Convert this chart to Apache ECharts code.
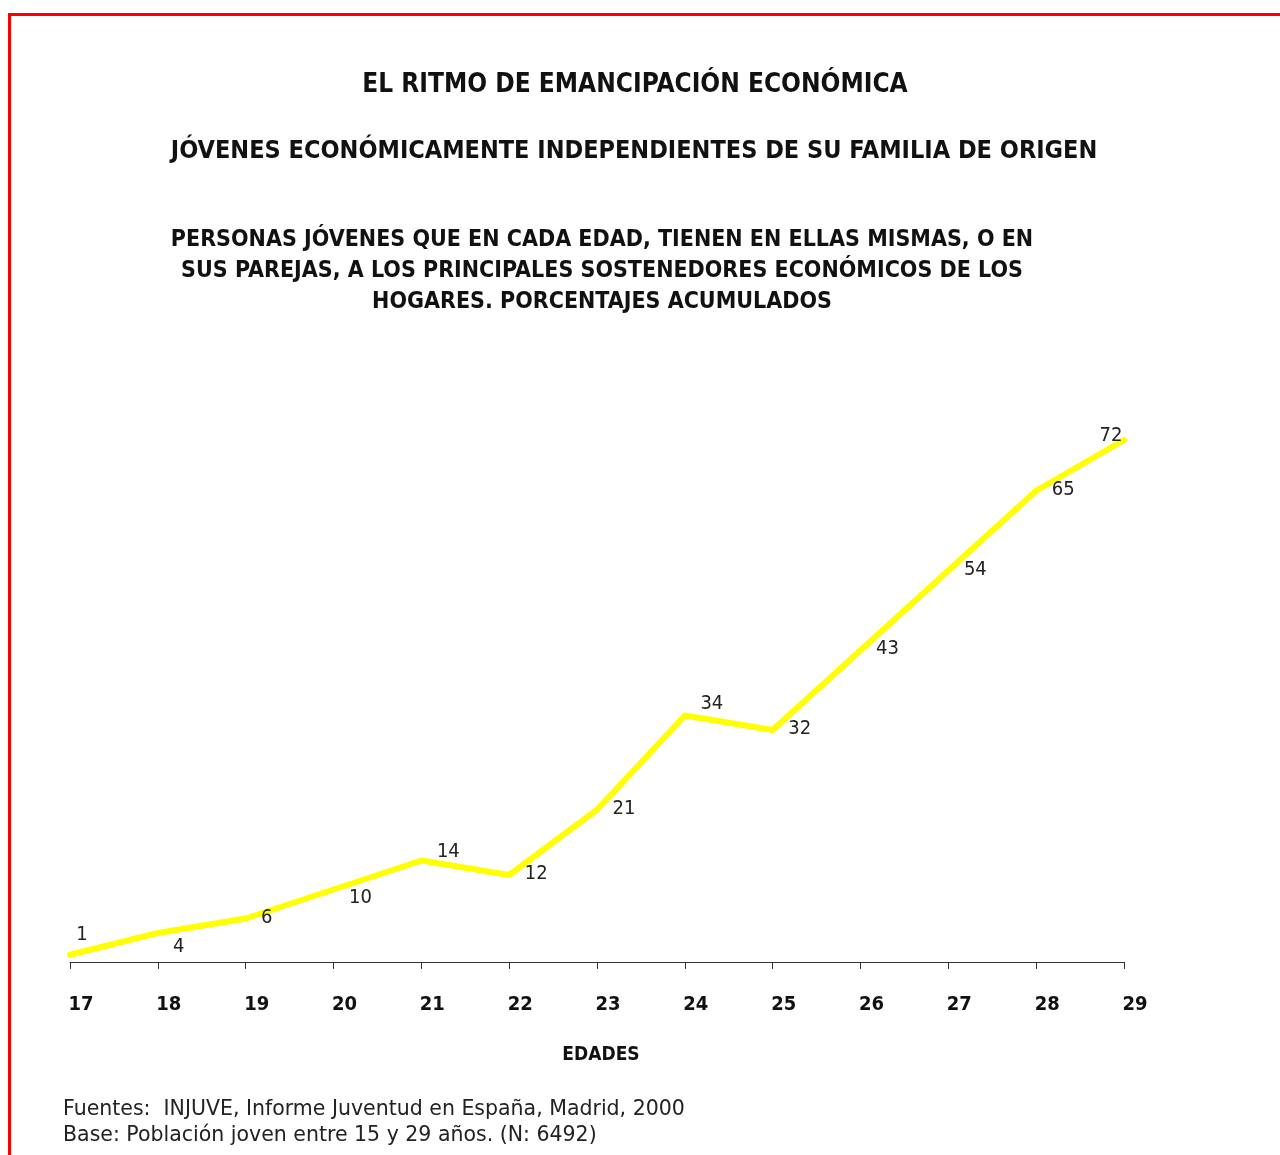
<!DOCTYPE html>
<html>
<head>
<meta charset="utf-8">
<script src="https://cdn.jsdelivr.net/npm/echarts@6/dist/echarts.min.js"></script>
<style>
  html, body { margin: 0; padding: 0; background: #fff; overflow: hidden; }
  #frame { position: absolute; left: 8px; top: 13px; width: 1400px; height: 1300px; border: 3px solid #ff0000; }
  #chart { position: absolute; left: 0; top: 0; width: 1280px; height: 1155px; }
</style>
</head>
<body>
<div id="frame"></div>
<div id="chart"></div>
<script>
// ages on the x axis
const edades = ['17', '18', '19', '20', '21', '22', '23', '24', '25', '26', '27', '28', '29'];
// cumulative percentage of independent young people
const porcentajes = [1, 4, 6, 10, 14, 12, 21, 34, 32, 43, 54, 65, 72];

const titulo1 = 'EL RITMO DE EMANCIPACIÓN ECONÓMICA';
const titulo2 = 'JÓVENES ECONÓMICAMENTE INDEPENDIENTES DE SU FAMILIA DE ORIGEN';
const subtitulo = 'PERSONAS JÓVENES QUE EN CADA EDAD, TIENEN EN ELLAS MISMAS, O EN\nSUS PAREJAS, A LOS PRINCIPALES SOSTENEDORES ECONÓMICOS DE LOS\nHOGARES. PORCENTAJES ACUMULADOS';
const fuentes = 'Fuentes:  INJUVE, Informe Juventud en España, Madrid, 2000\nBase: Población joven entre 15 y 29 años. (N: 6492)';

const narrow = '"Liberation Sans Narrow", "DejaVu Sans Condensed", sans-serif';

// label placement like the original sheet (most sit to the right)
const defaultOffset = [27, -1];
const offsetOverrides = { 0: [12, -20], 1: [21, 14], 2: [21, -1], 3: [27, 8], 4: [27, -9], 7: [27, -12], 12: [-13, -4] };

const seriesData = porcentajes.map((v, i) => ({
  value: v,
  label: { offset: offsetOverrides[i] || defaultOffset }
}));

const draw = () => {
  const chart = echarts.init(document.getElementById('chart'));
  chart.setOption({
    animation: false,
    title: [
      {
        text: titulo1, left: 630, top: 67, textAlign: 'center',
        textStyle: { fontFamily: narrow, fontSize: 26, fontWeight: 'bold', color: '#111' }
      },
      {
        text: titulo2, left: 629, top: 134, textAlign: 'center',
        textStyle: { fontFamily: narrow, fontSize: 25, fontWeight: 'bold', color: '#111' }
      },
      {
        text: subtitulo, left: 597, top: 220, textAlign: 'center',
        textStyle: { fontFamily: narrow, fontSize: 23, fontWeight: 'bold', color: '#111', lineHeight: 31, align: 'center' }
      },
      {
        text: 'EDADES', left: 596, top: 1041, textAlign: 'center',
        textStyle: { fontFamily: narrow, fontSize: 19, fontWeight: 'bold', color: '#111' }
      },
      {
        text: fuentes, left: 58, top: 1092,
        textStyle: { fontFamily: '"DejaVu Sans", sans-serif', fontSize: 20.5, fontWeight: 'normal', color: '#222', lineHeight: 26 }
      }
    ],
    grid: { left: 70, right: 156, top: 382, bottom: 193 },
    xAxis: {
      type: 'category',
      data: edades,
      boundaryGap: false,
      axisLine: { lineStyle: { color: '#333', width: 1 } },
      axisTick: { show: true, length: 7, alignWithLabel: true, lineStyle: { color: '#333' } },
      axisLabel: {
        margin: 33, fontFamily: narrow, fontSize: 20, fontWeight: 'bold', color: '#111',
        padding: [0, 0, 0, 22]
      }
    },
    yAxis: {
      type: 'value', min: 0, max: 80, show: false
    },
    series: [{
      type: 'line',
      data: seriesData,
      symbol: 'circle',
      symbolSize: 1,
      showSymbol: true,
      itemStyle: { color: '#ffff00' },
      lineStyle: { color: '#ffff00', width: 6, cap: 'round', join: 'round' },
      label: {
        show: true, position: 'inside',
        fontFamily: narrow, fontSize: 20, color: '#222'
      }
    }]
  });
};

// make sure the narrow font is ready before measuring text
Promise.all([
  document.fonts.load('bold 20px "Liberation Sans Narrow"'),
  document.fonts.load('20px "Liberation Sans Narrow"'),
  document.fonts.load('20px "DejaVu Sans"')
]).then(draw, draw);
</script>
</body>
</html>
